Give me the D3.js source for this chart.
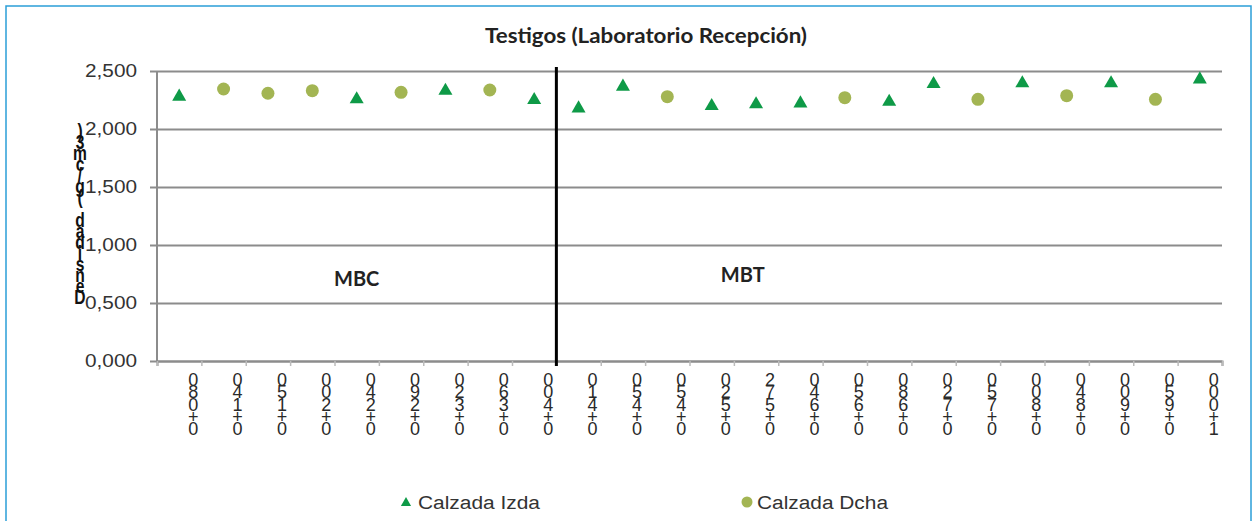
<!DOCTYPE html>
<html>
<head>
<meta charset="utf-8">
<script src="https://cdn.jsdelivr.net/npm/d3@7"></script>
<style>
body { margin: 0; background: #fff; }
</style>
</head>
<body>
<div id="chart"></div>
<script>
var categories = ["0+080", "0+140", "0+150", "0+200", "0+240", "0+290", "0+320", "0+360", "0+400",
	"0+410", "0+450", "0+450", "0+520", "0+572", "0+640", "0+650", "0+680", "0+720",
	"0+750", "0+800", "0+840", "0+900", "0+950", "1+000"];
var izda = [2.279, null, null, null, 2.256, null, 2.330, null, 2.250,
	2.178, 2.365, null, 2.198, 2.213, 2.221, null, 2.235, 2.388,
	null, 2.394, null, 2.394, null, 2.428];
var dcha = [null, 2.345, 2.308, 2.330, null, 2.316, null, 2.336, null,
	null, null, 2.279, null, null, null, 2.270, null, null,
	2.256, null, 2.287, null, 2.256, null];
var yTicks = [0, 0.5, 1, 1.5, 2, 2.5];
var zones = ["MBC", "MBT"];
var seriesNames = ["Calzada Izda", "Calzada Dcha"];
var title = "Testigos (Laboratorio Recepción)";
var yLabel = "Densidad (g/cm3)";

function drawChart() {
	var W = 1258, H = 521;
	var pLeft = 157, pRight = 1222, pTop = 71, pBottom = 361;
	var triColor = "#0e9a47", dotColor = "#a3b553", gridColor = "#8c8c8c";

	var svg = d3.select("#chart").append("svg")
		.attr("width", W)
		.attr("height", H)
		.style("font-family", "'Liberation Sans', Arial, sans-serif");

	// frame
	svg.append("rect")
		.attr("x", 6).attr("y", 6)
		.attr("width", 1245).attr("height", 540)
		.attr("fill", "#fff")
		.attr("stroke", "#2b9ed8")
		.attr("stroke-width", 1.5);

	var x = d3.scaleBand()
		.domain(d3.range(categories.length))
		.range([pLeft, pRight]);
	var xi = d3.scaleLinear()
		.domain([0, categories.length])
		.range([pLeft, pRight]);
	var y = d3.scaleLinear()
		.domain([0, 2.5])
		.range([pBottom, pTop]);

	var es = d3.formatLocale({decimal: ",", thousands: ".", grouping: [3], currency: ["", ""]});
	var fmt = es.format(".3f");

	// y axis with grid
	var gy = svg.append("g")
		.attr("transform", "translate(150,0)")
		.call(d3.axisLeft(y).tickValues(yTicks).tickSize(-(pRight - 150)).tickPadding(13).tickFormat(fmt));
	gy.select(".domain").remove();
	gy.selectAll(".tick line")
		.attr("stroke", gridColor)
		.attr("stroke-width", 2);
	gy.selectAll(".tick text")
		.attr("fill", "#333")
		.style("font-size", "18px")
		.attr("textLength", 52)
		.attr("lengthAdjust", "spacingAndGlyphs");

	svg.append("line")
		.attr("x1", pLeft).attr("x2", pLeft)
		.attr("y1", y(2.5)).attr("y2", y(0))
		.attr("stroke", gridColor)
		.attr("stroke-width", 2);

	// x axis
	var gx = svg.append("g")
		.attr("transform", "translate(0," + pBottom + ")")
		.call(d3.axisBottom(xi).tickValues(d3.range(categories.length + 1)).tickSize(5).tickFormat(""));
	gx.select(".domain")
		.attr("stroke", gridColor)
		.attr("stroke-width", 2);
	gx.selectAll(".tick line")
		.attr("stroke", "#bbb")
		.attr("stroke-width", 1.5);

	// x labels as stacked characters
	svg.append("g")
		.selectAll("text")
		.data(categories)
		.enter().append("text")
		.attr("fill", "#2a2a2a")
		.style("font-size", "18px")
		.attr("text-anchor", "middle")
		.each(function (d, i) {
			var t = d3.select(this);
			var cx = x(i) + x.bandwidth() / 2 + 14;
			d.split("").reverse().forEach(function (c, k) {
				t.append("tspan")
					.attr("x", cx)
					.attr("y", 386 + k * 12.3)
					.text(c);
			});
		});

	// y label stacked characters
	var yl = svg.append("g")
		.attr("transform", "translate(80,0) scale(0.78,1)")
		.append("text")
		.attr("fill", "#111")
		.style("font-size", "20px")
		.style("font-weight", "bold")
		.attr("text-anchor", "middle");
	yLabel.split("").reverse().forEach(function (c, k) {
		yl.append("tspan")
			.attr("x", 0)
			.attr("y", 138 + k * 11.07)
			.text(c);
	});

	// divider
	svg.append("line")
		.attr("x1", x(9)).attr("x2", x(9))
		.attr("y1", pTop - 4).attr("y2", pBottom + 5)
		.attr("stroke", "#000")
		.attr("stroke-width", 3);

	// zone labels
	svg.selectAll(".zone")
		.data(zones)
		.enter().append("text")
		.attr("class", "zone")
		.attr("x", function (d, i) { return i == 0 ? xi(4.5) : xi(13.2); })
		.attr("y", function (d, i) { return i == 0 ? y(0.65) : y(0.68); })
		.attr("text-anchor", "middle")
		.style("font-family", "Lato, 'Open Sans', sans-serif")
		.style("font-weight", "bold")
		.style("font-size", "20px")
		.attr("fill", "#222")
		.text(function (d) { return d; });

	// title
	svg.append("text")
		.attr("x", 646)
		.attr("y", 43)
		.attr("text-anchor", "middle")
		.style("font-family", "Lato, 'Open Sans', sans-serif")
		.style("font-weight", "bold")
		.style("font-size", "21px")
		.attr("fill", "#222")
		.attr("textLength", 322)
		.attr("lengthAdjust", "spacingAndGlyphs")
		.text(title);

	// points
	var tri = d3.symbol().type(d3.symbolTriangle).size(85);
	svg.append("g")
		.selectAll("path")
		.data(izda.map(function (v, i) { return {i: i, v: v}; }).filter(function (d) { return d.v != null; }))
		.enter().append("path")
		.attr("d", tri)
		.attr("transform", function (d) {
			return "translate(" + (x(d.i) + x.bandwidth() / 2) + "," + y(d.v) + ")";
		})
		.attr("fill", triColor);

	svg.append("g")
		.selectAll("circle")
		.data(dcha.map(function (v, i) { return {i: i, v: v}; }).filter(function (d) { return d.v != null; }))
		.enter().append("circle")
		.attr("cx", function (d) { return x(d.i) + x.bandwidth() / 2; })
		.attr("cy", function (d) { return y(d.v); })
		.attr("r", 6.5)
		.attr("fill", dotColor);

	// legend
	var lg = svg.append("g");
	lg.append("path")
		.attr("d", d3.symbol().type(d3.symbolTriangle).size(45))
		.attr("transform", "translate(406,503)")
		.attr("fill", triColor);
	lg.append("circle")
		.attr("cx", 747).attr("cy", 502)
		.attr("r", 5.5)
		.attr("fill", dotColor);
	lg.selectAll("text")
		.data(seriesNames)
		.enter().append("text")
		.attr("x", function (d, i) { return i == 0 ? 418 : 757; })
		.attr("y", 509)
		.attr("fill", "#333")
		.style("font-size", "18px")
		.attr("textLength", function (d, i) { return i == 0 ? 122 : 131; })
		.attr("lengthAdjust", "spacingAndGlyphs")
		.text(function (d) { return d; });
}

drawChart();
</script>
</body>
</html>
